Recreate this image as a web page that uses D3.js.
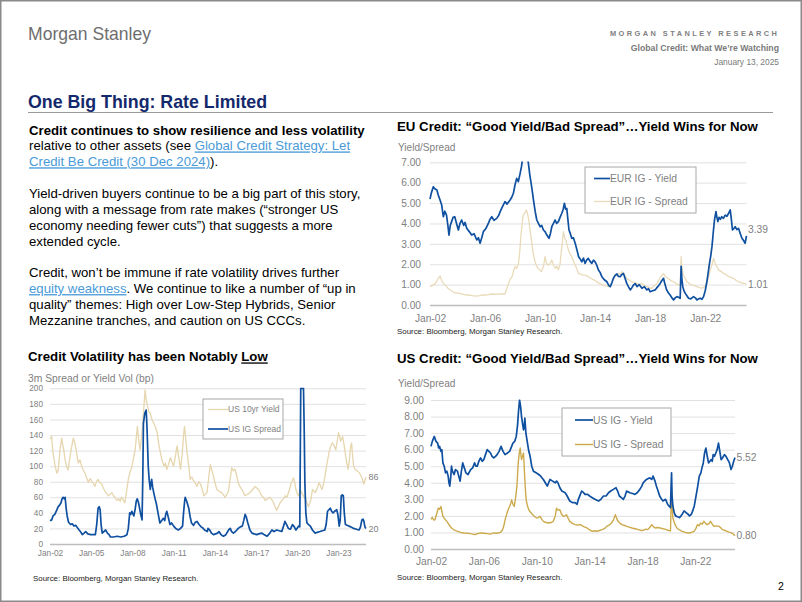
<!DOCTYPE html>
<html><head><meta charset="utf-8">
<script src="https://cdn.jsdelivr.net/npm/d3@7"></script>
<style>body{margin:0;background:#fff}svg{display:block}text{font-family:"Liberation Sans",Arial,sans-serif}</style>
</head><body><svg id="s" width="802" height="602"></svg>
<script>
// ---------- DATA ----------
const euYield = [[2002.0,5.2],[2002.1,5.5],[2002.24,5.8],[2002.35,5.7],[2002.5,5.64],[2002.6,5.4],[2002.73,5.15],[2002.85,4.9],[2002.97,4.33],[2003.08,4.6],[2003.2,4.41],[2003.3,3.9],[2003.38,3.43],[2003.47,3.9],[2003.57,4.09],[2003.68,4.3],[2003.8,4.33],[2003.93,4.0],[2004.06,3.68],[2004.18,4.0],[2004.3,4.17],[2004.45,3.9],[2004.55,4.05],[2004.67,3.76],[2004.85,3.6],[2005.03,3.43],[2005.2,3.5],[2005.4,3.19],[2005.52,3.3],[2005.64,3.03],[2005.76,3.3],[2005.88,3.6],[2006.06,3.75],[2006.24,4.0],[2006.36,4.2],[2006.49,4.33],[2006.65,4.15],[2006.85,4.25],[2007.0,4.4],[2007.1,4.58],[2007.25,4.8],[2007.45,5.07],[2007.6,4.95],[2007.82,5.15],[2007.95,5.3],[2008.06,5.48],[2008.18,5.9],[2008.3,6.21],[2008.42,6.05],[2008.55,6.46],[2008.65,6.8],[2008.71,7.1],[2008.8,7.4],[2008.9,7.3],[2009.0,7.1],[2009.08,7.3],[2009.15,6.95],[2009.25,6.4],[2009.35,5.97],[2009.45,5.5],[2009.52,5.15],[2009.64,4.6],[2009.76,4.17],[2009.88,4.0],[2010.0,3.84],[2010.12,3.9],[2010.24,3.68],[2010.36,3.6],[2010.49,3.43],[2010.65,3.27],[2010.75,3.5],[2010.85,3.84],[2010.97,4.0],[2011.09,4.17],[2011.2,4.0],[2011.33,4.09],[2011.45,4.3],[2011.58,4.5],[2011.68,4.7],[2011.77,4.99],[2011.85,4.7],[2011.94,4.74],[2012.02,4.2],[2012.1,3.68],[2012.2,3.5],[2012.3,3.27],[2012.42,3.3],[2012.55,3.03],[2012.68,2.7],[2012.8,2.37],[2012.92,2.25],[2013.03,2.12],[2013.15,2.3],[2013.27,2.04],[2013.38,2.2],[2013.5,2.29],[2013.62,2.15],[2013.76,2.04],[2013.88,2.2],[2014.0,2.12],[2014.12,1.95],[2014.24,1.72],[2014.36,1.6],[2014.49,1.39],[2014.65,1.25],[2014.85,1.14],[2015.0,0.95],[2015.1,0.9],[2015.22,1.1],[2015.33,1.31],[2015.45,1.45],[2015.58,1.52],[2015.7,1.4],[2015.82,1.39],[2015.94,1.5],[2016.06,1.55],[2016.18,1.3],[2016.3,1.06],[2016.42,0.9],[2016.55,0.74],[2016.67,0.85],[2016.79,0.98],[2016.92,1.05],[2017.04,0.9],[2017.2,1.0],[2017.4,0.82],[2017.58,0.9],[2017.76,0.74],[2017.88,0.8],[2018.0,0.65],[2018.18,0.7],[2018.36,0.74],[2018.55,0.9],[2018.73,1.06],[2018.85,1.2],[2018.97,1.31],[2019.08,1.0],[2019.2,0.74],[2019.32,0.6],[2019.45,0.49],[2019.58,0.35],[2019.7,0.25],[2019.82,0.35],[2019.94,0.41],[2020.06,0.38],[2020.18,0.33],[2020.22,1.2],[2020.25,1.9],[2020.3,1.3],[2020.37,0.9],[2020.45,0.7],[2020.55,0.57],[2020.67,0.45],[2020.79,0.33],[2020.95,0.3],[2021.15,0.41],[2021.28,0.35],[2021.4,0.25],[2021.52,0.3],[2021.64,0.33],[2021.76,0.28],[2021.88,0.41],[2022.0,0.7],[2022.12,1.14],[2022.22,1.6],[2022.31,2.04],[2022.4,2.4],[2022.49,2.86],[2022.55,3.3],[2022.6,3.68],[2022.68,4.2],[2022.78,4.58],[2022.85,4.3],[2022.92,4.09],[2023.0,4.3],[2023.1,4.2],[2023.2,4.33],[2023.32,4.25],[2023.45,4.41],[2023.58,4.35],[2023.7,4.5],[2023.82,4.66],[2023.9,4.2],[2023.98,3.68],[2024.08,3.75],[2024.18,3.84],[2024.3,3.7],[2024.42,3.76],[2024.55,3.5],[2024.67,3.27],[2024.8,3.15],[2024.9,3.03],[2025.0,3.39]];
const euSpread = [[2002.0,0.9],[2002.15,0.95],[2002.4,1.06],[2002.6,1.3],[2002.73,1.42],[2002.85,1.2],[2002.97,1.06],[2003.15,0.95],[2003.3,0.82],[2003.55,0.7],[2003.8,0.6],[2004.05,0.58],[2004.3,0.54],[2004.55,0.5],[2004.8,0.49],[2005.05,0.46],[2005.3,0.44],[2005.6,0.46],[2005.9,0.49],[2006.2,0.5],[2006.5,0.54],[2006.8,0.52],[2007.1,0.54],[2007.45,0.54],[2007.58,0.8],[2007.7,1.06],[2007.85,1.3],[2007.97,1.39],[2008.08,1.7],[2008.18,1.88],[2008.3,1.8],[2008.43,2.04],[2008.52,2.6],[2008.6,3.35],[2008.68,3.9],[2008.77,4.41],[2008.88,4.5],[2009.0,4.66],[2009.08,4.5],[2009.18,4.17],[2009.28,3.6],[2009.37,3.19],[2009.48,2.6],[2009.6,2.21],[2009.72,1.95],[2009.85,1.8],[2010.0,1.7],[2010.1,1.64],[2010.25,1.9],[2010.36,2.37],[2010.45,2.1],[2010.55,1.96],[2010.7,2.0],[2010.85,2.21],[2010.98,1.95],[2011.1,1.8],[2011.22,1.9],[2011.33,1.72],[2011.45,2.0],[2011.53,2.53],[2011.62,3.1],[2011.7,3.6],[2011.78,3.3],[2011.87,3.19],[2011.96,2.95],[2012.06,2.7],[2012.18,2.5],[2012.3,2.37],[2012.4,2.2],[2012.5,2.04],[2012.65,1.8],[2012.8,1.55],[2012.98,1.5],[2013.15,1.47],[2013.35,1.45],[2013.5,1.39],[2013.7,1.3],[2013.9,1.23],[2014.1,1.15],[2014.3,1.06],[2014.5,1.0],[2014.7,0.95],[2014.9,0.92],[2015.1,0.9],[2015.22,1.1],[2015.33,1.31],[2015.5,1.45],[2015.7,1.55],[2015.85,1.5],[2015.96,1.64],[2016.1,1.5],[2016.3,1.31],[2016.5,1.2],[2016.67,1.14],[2016.85,1.1],[2017.04,1.06],[2017.2,1.0],[2017.4,1.06],[2017.6,0.95],[2017.76,0.9],[2017.95,0.85],[2018.1,0.82],[2018.3,0.95],[2018.5,1.06],[2018.7,1.3],[2018.85,1.45],[2018.97,1.55],[2019.1,1.4],[2019.3,1.31],[2019.5,1.2],[2019.7,1.14],[2019.9,1.05],[2020.06,0.98],[2020.18,1.0],[2020.22,1.8],[2020.25,2.37],[2020.3,1.9],[2020.4,1.47],[2020.55,1.3],[2020.67,1.14],[2020.85,1.05],[2021.03,0.98],[2021.2,0.95],[2021.4,0.9],[2021.6,0.85],[2021.76,0.82],[2021.95,0.9],[2022.12,1.06],[2022.25,1.4],[2022.37,1.72],[2022.5,2.0],[2022.6,2.29],[2022.7,2.1],[2022.78,1.96],[2022.88,1.85],[2022.97,1.72],[2023.15,1.65],[2023.33,1.55],[2023.5,1.5],[2023.7,1.39],[2023.88,1.35],[2024.06,1.31],[2024.25,1.2],[2024.42,1.14],[2024.6,1.1],[2024.79,1.06],[2024.9,1.05],[2025.0,1.01]];
const volYield10y = [[2002.0,135],[2002.12,138],[2002.2,120],[2002.3,108],[2002.4,98],[2002.5,91],[2002.6,95],[2002.72,120],[2002.85,136],[2002.92,128],[2003.0,121],[2003.1,108],[2003.2,100],[2003.32,95],[2003.46,113],[2003.58,125],[2003.7,136],[2003.8,130],[2003.9,121],[2004.0,110],[2004.06,104],[2004.18,108],[2004.3,100],[2004.42,95],[2004.55,91],[2004.68,84],[2004.8,79],[2004.92,84],[2005.03,81],[2005.15,78],[2005.27,74],[2005.38,80],[2005.5,83],[2005.62,79],[2005.76,77],[2005.88,72],[2006.0,68],[2006.12,65],[2006.25,62],[2006.38,64],[2006.5,66],[2006.62,62],[2006.73,60],[2006.86,56],[2007.0,58],[2007.1,55],[2007.2,60],[2007.32,57],[2007.45,53],[2007.55,65],[2007.7,83],[2007.82,92],[2007.94,98],[2008.08,110],[2008.2,121],[2008.3,140],[2008.36,151],[2008.45,135],[2008.55,121],[2008.65,135],[2008.75,155],[2008.85,180],[2008.92,198],[2009.0,185],[2009.1,177],[2009.2,170],[2009.3,168],[2009.42,160],[2009.55,155],[2009.68,150],[2009.8,143],[2009.92,128],[2010.04,117],[2010.15,108],[2010.3,100],[2010.4,104],[2010.5,96],[2010.62,102],[2010.76,111],[2010.88,105],[2011.0,100],[2011.12,112],[2011.25,126],[2011.38,110],[2011.5,96],[2011.62,115],[2011.72,140],[2011.79,151],[2011.88,135],[2011.98,117],[2012.1,100],[2012.2,83],[2012.32,86],[2012.45,81],[2012.58,78],[2012.7,74],[2012.82,80],[2012.96,77],[2013.08,70],[2013.2,62],[2013.32,64],[2013.43,66],[2013.55,85],[2013.66,102],[2013.78,95],[2013.9,87],[2014.02,78],[2014.14,70],[2014.3,68],[2014.5,66],[2014.62,63],[2014.75,60],[2014.88,64],[2014.99,68],[2015.1,82],[2015.23,98],[2015.35,94],[2015.47,96],[2015.58,88],[2015.7,79],[2015.82,74],[2015.96,70],[2016.08,66],[2016.2,62],[2016.38,64],[2016.56,66],[2016.75,70],[2016.93,74],[2017.05,72],[2017.17,70],[2017.3,66],[2017.4,62],[2017.53,60],[2017.66,56],[2017.82,58],[2018.0,60],[2018.14,57],[2018.27,53],[2018.38,48],[2018.5,43],[2018.62,48],[2018.75,53],[2018.88,56],[2018.99,58],[2019.12,62],[2019.24,60],[2019.4,68],[2019.55,78],[2019.65,82],[2019.72,85],[2019.82,78],[2019.9,70],[2020.0,64],[2020.1,62],[2020.2,70],[2020.35,65],[2020.5,60],[2020.6,58],[2020.72,52],[2020.8,48],[2020.9,52],[2021.0,58],[2021.1,70],[2021.2,68],[2021.3,66],[2021.45,72],[2021.6,79],[2021.7,74],[2021.8,70],[2021.92,78],[2022.05,91],[2022.18,105],[2022.3,117],[2022.42,125],[2022.55,130],[2022.68,126],[2022.8,121],[2022.9,132],[2023.0,143],[2023.08,138],[2023.15,132],[2023.22,135],[2023.3,138],[2023.4,128],[2023.5,115],[2023.6,104],[2023.7,96],[2023.8,110],[2023.88,125],[2023.95,130],[2024.02,115],[2024.1,100],[2024.2,96],[2024.35,94],[2024.48,92],[2024.6,89],[2024.72,84],[2024.84,77],[2024.92,82],[2025.0,86]];
const volIGSpread = [[2002.0,30],[2002.12,31],[2002.22,36],[2002.35,38],[2002.45,42],[2002.6,48],[2002.7,50],[2002.8,53],[2002.88,58],[2002.95,60],[2003.05,58],[2003.1,60],[2003.18,45],[2003.25,36],[2003.35,28],[2003.5,25],[2003.62,26],[2003.74,23],[2003.87,24],[2004.0,21],[2004.12,18],[2004.25,15],[2004.35,12],[2004.48,14],[2004.6,16],[2004.75,13],[2004.96,12],[2005.1,12],[2005.3,12],[2005.4,25],[2005.5,46],[2005.58,48],[2005.65,44],[2005.72,25],[2005.8,14],[2005.92,16],[2006.05,18],[2006.18,14],[2006.3,12],[2006.4,9],[2006.6,9],[2006.9,10],[2007.15,9],[2007.4,10],[2007.6,12],[2007.7,20],[2007.8,40],[2007.88,38],[2007.96,42],[2008.05,38],[2008.1,36],[2008.2,45],[2008.28,55],[2008.35,58],[2008.43,54],[2008.5,48],[2008.6,38],[2008.7,31],[2008.75,80],[2008.8,155],[2008.9,168],[2009.0,172],[2009.06,150],[2009.15,100],[2009.22,82],[2009.3,70],[2009.35,78],[2009.4,83],[2009.48,72],[2009.55,66],[2009.65,58],[2009.75,51],[2009.88,38],[2010.0,27],[2010.12,30],[2010.25,33],[2010.35,30],[2010.42,38],[2010.5,42],[2010.6,35],[2010.73,25],[2010.85,27],[2011.0,23],[2011.15,20],[2011.34,18],[2011.5,20],[2011.65,23],[2011.72,40],[2011.8,55],[2011.84,60],[2011.95,55],[2012.1,46],[2012.2,35],[2012.3,27],[2012.45,24],[2012.58,28],[2012.7,29],[2012.85,25],[2013.0,22],[2013.1,21],[2013.25,18],[2013.45,16],[2013.5,20],[2013.62,18],[2013.75,14],[2013.9,12],[2014.05,13],[2014.2,14],[2014.3,16],[2014.45,12],[2014.62,10],[2014.8,12],[2015.0,18],[2015.12,20],[2015.22,16],[2015.35,14],[2015.5,16],[2015.6,18],[2015.7,20],[2015.85,22],[2016.0,23],[2016.1,30],[2016.2,38],[2016.28,35],[2016.4,27],[2016.55,18],[2016.7,14],[2016.85,13],[2017.05,12],[2017.2,13],[2017.4,14],[2017.6,12],[2017.8,10],[2018.0,14],[2018.15,18],[2018.3,16],[2018.5,18],[2018.68,17],[2018.87,16],[2018.98,22],[2019.1,29],[2019.22,25],[2019.35,20],[2019.5,19],[2019.65,25],[2019.78,22],[2019.9,18],[2020.1,23],[2020.18,22],[2020.22,120],[2020.25,200],[2020.35,200],[2020.45,200],[2020.5,150],[2020.55,79],[2020.62,40],[2020.7,27],[2020.82,25],[2020.95,23],[2021.1,18],[2021.3,14],[2021.45,15],[2021.65,16],[2021.82,17],[2022.0,18],[2022.1,25],[2022.2,42],[2022.3,44],[2022.4,46],[2022.5,42],[2022.6,40],[2022.72,42],[2022.87,44],[2022.95,38],[2023.05,23],[2023.12,30],[2023.2,62],[2023.28,63],[2023.35,62],[2023.42,40],[2023.5,25],[2023.62,24],[2023.75,23],[2023.9,22],[2024.1,20],[2024.3,19],[2024.5,18],[2024.6,22],[2024.7,31],[2024.78,32],[2024.85,29],[2024.92,22],[2025.0,20]];
const usYield = [[2002.0,6.2],[2002.1,6.5],[2002.25,6.8],[2002.38,6.5],[2002.5,6.4],[2002.58,6.1],[2002.65,6.2],[2002.75,5.9],[2002.82,6.0],[2002.9,5.2],[2003.0,5.0],[2003.1,4.6],[2003.2,4.7],[2003.3,4.4],[2003.36,4.0],[2003.42,3.8],[2003.5,4.4],[2003.55,5.0],[2003.62,4.7],[2003.75,4.5],[2003.85,4.8],[2004.0,4.7],[2004.1,4.4],[2004.2,4.1],[2004.3,4.7],[2004.4,5.2],[2004.52,4.9],[2004.64,4.6],[2004.8,4.5],[2005.0,4.8],[2005.15,4.9],[2005.3,5.2],[2005.4,5.0],[2005.5,5.0],[2005.62,5.3],[2005.75,5.5],[2005.88,5.3],[2006.0,5.4],[2006.12,5.7],[2006.25,6.0],[2006.38,5.9],[2006.5,5.8],[2006.62,5.6],[2006.75,5.5],[2006.88,5.6],[2007.0,5.7],[2007.15,5.9],[2007.3,6.2],[2007.45,5.9],[2007.6,5.7],[2007.78,5.8],[2007.95,5.9],[2008.1,6.2],[2008.2,6.4],[2008.33,6.5],[2008.45,6.8],[2008.55,7.5],[2008.62,8.3],[2008.7,9.0],[2008.78,8.6],[2008.85,8.0],[2008.92,7.6],[2009.0,7.2],[2009.06,7.5],[2009.1,7.9],[2009.18,7.0],[2009.3,6.4],[2009.4,5.9],[2009.5,5.6],[2009.62,5.0],[2009.75,4.7],[2009.95,4.6],[2010.15,4.5],[2010.3,4.4],[2010.5,4.2],[2010.65,4.0],[2010.8,3.8],[2010.9,4.0],[2011.0,4.2],[2011.2,4.1],[2011.4,4.0],[2011.5,4.1],[2011.6,4.0],[2011.75,3.7],[2011.9,3.5],[2012.15,3.4],[2012.3,3.2],[2012.5,2.9],[2012.7,2.8],[2012.9,2.8],[2013.05,2.7],[2013.15,3.0],[2013.3,3.3],[2013.4,3.5],[2013.55,3.4],[2013.65,3.3],[2013.85,3.3],[2014.0,3.2],[2014.2,3.1],[2014.4,3.0],[2014.55,2.95],[2014.68,2.9],[2014.85,3.0],[2015.05,3.2],[2015.25,3.2],[2015.43,3.4],[2015.6,3.5],[2015.8,3.6],[2016.0,3.7],[2016.12,3.5],[2016.25,3.2],[2016.4,3.1],[2016.55,3.0],[2016.68,3.2],[2016.8,3.5],[2016.92,3.45],[2017.05,3.4],[2017.25,3.35],[2017.43,3.3],[2017.6,3.4],[2017.8,3.6],[2017.95,3.8],[2018.05,4.0],[2018.3,4.2],[2018.55,4.3],[2018.7,4.2],[2018.8,4.4],[2018.95,4.1],[2019.05,3.8],[2019.18,3.5],[2019.3,3.2],[2019.45,3.0],[2019.55,2.9],[2019.75,3.0],[2019.9,2.7],[2020.0,2.6],[2020.12,2.5],[2020.16,3.7],[2020.2,4.6],[2020.24,3.2],[2020.3,2.6],[2020.4,2.2],[2020.5,2.0],[2020.65,1.95],[2020.8,1.9],[2020.92,2.0],[2021.0,2.1],[2021.15,2.3],[2021.3,2.2],[2021.45,2.1],[2021.55,2.0],[2021.7,2.1],[2021.8,2.3],[2021.92,2.6],[2022.05,3.2],[2022.18,3.8],[2022.3,4.4],[2022.42,4.6],[2022.5,4.9],[2022.6,5.2],[2022.7,5.8],[2022.8,6.1],[2022.9,5.6],[2023.0,5.2],[2023.1,5.3],[2023.2,5.4],[2023.28,5.3],[2023.35,5.7],[2023.45,5.6],[2023.55,5.8],[2023.65,6.0],[2023.75,6.4],[2023.85,5.9],[2023.95,5.4],[2024.05,5.5],[2024.2,5.7],[2024.32,5.6],[2024.45,5.4],[2024.58,5.2],[2024.7,4.8],[2024.8,5.0],[2024.9,5.3],[2025.0,5.52]];
const usSpread = [[2002.0,1.8],[2002.1,1.9],[2002.2,1.75],[2002.3,1.77],[2002.42,2.1],[2002.55,2.47],[2002.65,2.4],[2002.75,2.57],[2002.82,2.3],[2002.9,1.97],[2003.05,1.8],[2003.2,1.67],[2003.38,1.45],[2003.55,1.27],[2003.75,1.15],[2004.0,1.07],[2004.25,1.0],[2004.5,0.97],[2004.75,0.95],[2005.0,0.93],[2005.3,0.87],[2005.5,0.92],[2005.75,0.97],[2006.0,0.95],[2006.25,0.93],[2006.5,0.9],[2006.75,0.97],[2007.0,0.95],[2007.25,1.0],[2007.4,1.15],[2007.5,1.37],[2007.62,1.8],[2007.75,2.17],[2007.85,2.4],[2007.95,2.57],[2008.05,2.8],[2008.1,2.97],[2008.2,2.7],[2008.3,2.57],[2008.4,3.1],[2008.5,3.78],[2008.55,4.5],[2008.6,5.2],[2008.68,5.8],[2008.75,6.1],[2008.8,5.7],[2008.85,5.4],[2008.92,5.6],[2009.0,5.8],[2009.05,5.0],[2009.1,4.2],[2009.15,3.5],[2009.2,2.97],[2009.3,2.6],[2009.4,2.37],[2009.55,2.2],[2009.7,2.07],[2009.85,1.95],[2010.0,1.87],[2010.12,1.9],[2010.25,1.97],[2010.38,1.8],[2010.5,1.67],[2010.7,1.6],[2010.9,1.57],[2011.1,1.6],[2011.25,1.67],[2011.4,2.0],[2011.5,2.47],[2011.6,2.35],[2011.75,2.37],[2011.88,2.1],[2012.0,1.97],[2012.12,2.0],[2012.25,2.07],[2012.38,1.85],[2012.5,1.67],[2012.7,1.55],[2012.9,1.47],[2013.1,1.45],[2013.3,1.47],[2013.55,1.35],[2013.8,1.27],[2014.0,1.15],[2014.2,1.07],[2014.4,1.1],[2014.55,1.07],[2014.75,1.12],[2014.95,1.17],[2015.15,1.25],[2015.3,1.37],[2015.5,1.45],[2015.65,1.57],[2015.8,1.75],[2015.95,2.07],[2016.05,1.85],[2016.15,1.67],[2016.3,1.55],[2016.45,1.47],[2016.65,1.42],[2016.8,1.37],[2017.0,1.32],[2017.2,1.27],[2017.45,1.22],[2017.7,1.17],[2017.9,1.12],[2018.05,1.13],[2018.25,1.2],[2018.4,1.17],[2018.55,1.3],[2018.7,1.47],[2018.82,1.35],[2018.95,1.27],[2019.15,1.3],[2019.35,1.27],[2019.55,1.22],[2019.7,1.2],[2019.85,1.15],[2020.0,1.12],[2020.12,1.1],[2020.16,2.5],[2020.2,3.57],[2020.24,2.6],[2020.3,1.87],[2020.45,1.5],[2020.6,1.27],[2020.8,1.15],[2021.0,1.07],[2021.25,1.0],[2021.5,0.97],[2021.7,1.0],[2021.9,1.07],[2022.05,1.25],[2022.15,1.47],[2022.28,1.4],[2022.4,1.57],[2022.52,1.5],[2022.65,1.67],[2022.78,1.55],[2022.9,1.47],[2023.05,1.55],[2023.15,1.67],[2023.28,1.5],[2023.4,1.37],[2023.6,1.4],[2023.8,1.37],[2023.95,1.25],[2024.05,1.17],[2024.25,1.12],[2024.4,1.07],[2024.55,1.02],[2024.65,1.0],[2024.8,0.95],[2024.9,0.88],[2025.0,0.8]];

const euYTicks = [0,1,2,3,4,5,6,7];
const usYTicks = [0,1,2,3,4,5,6,7,8,9];
const volYTicks = [0,20,40,60,80,100,120,140,160,180,200];
const creditXTicks = [2002,2006,2010,2014,2018,2022];
const volXTicks = [2002,2005,2008,2011,2014,2017,2020,2023];
const euLegend = ["EUR IG - Yield","EUR IG - Spread"];
const volLegend = ["US 10yr Yield","US IG Spread"];
const usLegend = ["US IG - Yield","US IG - Spread"];

// ---------- STYLE ----------
const BLUE = "#0f50a0", BEIGE = "#e9dbb9", VOLBEIGE = "#e6d6ae", GOLD = "#ccaa4c";
const GRAY = "#7f7f7f";
const svg = d3.select("#s");
svg.append("rect").attr("x",0.75).attr("y",0.75).attr("width",800.5).attr("height",600.5).attr("fill","#fff").attr("stroke","#8a8a8a").attr("stroke-width",1.5);

// header
svg.append("text").attr("x",28).attr("y",40).attr("font-size",19).attr("fill","#6e6e6e").attr("textLength",123).attr("lengthAdjust","spacingAndGlyphs").text("Morgan Stanley");
svg.append("text").attr("x",610).attr("y",35.5).attr("font-size",7.4).attr("font-weight","bold").attr("fill","#808080").attr("letter-spacing","2.45").text("MORGAN STANLEY RESEARCH");
svg.append("text").attr("x",779).attr("y",50.5).attr("text-anchor","end").attr("font-size",8.7).attr("font-weight","bold").attr("fill","#7a7a7a").text("Global Credit: What We’re Watching");
svg.append("text").attr("x",779).attr("y",64.5).attr("text-anchor","end").attr("font-size",8.4).attr("fill","#7a7a7a").text("January 13, 2025");
svg.append("text").attr("x",28).attr("y",107.5).attr("font-size",17.8).attr("font-weight","bold").attr("fill","#14296b").text("One Big Thing: Rate Limited");
svg.append("line").attr("x1",28).attr("x2",773).attr("y1",112.5).attr("y2",112.5).attr("stroke","#9a9a9a").attr("stroke-width",1);

// body text
const bodyLines = [
 [0,[["Credit continues to show resilience and less volatility","b"]]],
 [1,[["relative to other assets (see ",""],["Global Credit Strategy: Let","l"]]],
 [2,[["Credit Be Credit (30 Dec 2024)","l"],[").",""]]],
 [4,[["Yield-driven buyers continue to be a big part of this story,",""]]],
 [5,[["along with a message from rate makes (“stronger US",""]]],
 [6,[["economy needing fewer cuts”) that suggests a more",""]]],
 [7,[["extended cycle.",""]]],
 [9,[["Credit, won’t be immune if rate volatility drives further",""]]],
 [10,[["equity weakness","l"],[". We continue to like a number of “up in",""]]],
 [11,[["quality” themes: High over Low-Step Hybrids, Senior",""]]],
 [12,[["Mezzanine tranches, and caution on US CCCs.",""]]]
];
bodyLines.forEach(([i,segs])=>{
  const t = svg.append("text").attr("x",29).attr("y",134.6+i*15.85).attr("font-size",13.2).attr("fill","#000");
  segs.forEach(([s,k])=>{
    const ts = t.append("tspan").text(s);
    if(k==="b") ts.attr("font-weight","bold");
    if(k==="l") ts.attr("fill","#4a9ad8").attr("text-decoration","underline");
  });
});

// ---------- CHART FUNCTION ----------
function chart(c){
  const g = svg.append("g");
  const x = d3.scaleLinear().domain([2002,2025]).range([c.x0,c.x1]);
  const y = d3.scaleLinear().domain([c.yTicks[0],c.yTicks[c.yTicks.length-1]]).range([c.yB,c.yT]);
  // title
  const tt = g.append("text").attr("x",c.tx).attr("y",c.ty).attr("font-size",13.25).attr("font-weight","bold").attr("fill","#000");
  c.title.forEach(([s,u])=>{const ts=tt.append("tspan").text(s); if(u) ts.attr("text-decoration","underline");});
  g.append("text").attr("x",c.ax).attr("y",c.ay).attr("font-size",c.afs).attr("fill",GRAY).text(c.axisLabel);
  // y axis + grid
  const ya = g.append("g").attr("transform",`translate(${c.x0},0)`)
    .call(d3.axisLeft(y).tickValues(c.yTicks).tickFormat(c.fmt).tickSize(-(c.x1-c.x0)).tickPadding(c.ypad));
  ya.select(".domain").remove();
  ya.selectAll(".tick line").attr("stroke",d=>d===0?"#bdbdbd":"#dedede").attr("stroke-width",d=>d===0?1.6:0.9);
  ya.selectAll(".tick text").attr("fill",GRAY).attr("font-size",c.tfs).attr("font-family","Liberation Sans, Arial, sans-serif");
  // x axis
  const xa = g.append("g").attr("transform",`translate(0,${c.yB})`)
    .call(d3.axisBottom(x).tickValues(c.xTicks).tickFormat(d=>"Jan-"+String(d%100).padStart(2,"0")).tickSize(0).tickPadding(c.xpad));
  xa.select(".domain").remove();
  xa.selectAll(".tick text").attr("fill",GRAY).attr("font-size",c.tfs).attr("font-family","Liberation Sans, Arial, sans-serif");
  // clip
  const cid = "clip"+c.id;
  g.append("clipPath").attr("id",cid).append("rect").attr("x",c.x0-2).attr("y",c.yT-0.8).attr("width",c.x1-c.x0+4).attr("height",c.yB-c.yT+3);
  const line = d3.line().x(d=>x(d[0])).y(d=>y(d[1]));
  const lg = g.append("g").attr("clip-path",`url(#${cid})`);
  c.series.forEach(s=>{
    lg.append("path").datum(s.data).attr("d",line).attr("fill","none").attr("stroke",s.color).attr("stroke-width",s.w).attr("stroke-linejoin","round");
  });
  // end labels
  c.series.forEach(s=>{
    const last = s.data[s.data.length-1];
    g.append("text").attr("x",x(last[0])+c.lpad).attr("y",y(last[1])+s.loff).attr("dy","0.35em")
      .attr("font-size",c.lfs).attr("fill",GRAY).text(c.lfmt(last[1]));
  });
  // legend
  const L = c.legend;
  g.append("rect").attr("x",L.x).attr("y",L.y).attr("width",L.w).attr("height",L.h).attr("fill","#fff").attr("stroke","#a8a8a8").attr("stroke-width",1);
  c.series.slice().reverse().forEach((s,i)=>{});
  c.legendOrder.forEach((si,i)=>{
    const s = c.series[si];
    const ry = L.rows[i];
    g.append("line").attr("x1",L.lx0).attr("x2",L.lx1).attr("y1",ry).attr("y2",ry).attr("stroke",s.color).attr("stroke-width",s.w);
    g.append("text").attr("x",L.tx).attr("y",ry).attr("dy","0.35em").attr("font-size",L.fs).attr("fill",GRAY).text(s.name);
  });
  g.append("text").attr("x",c.sx).attr("y",c.sy).attr("font-size",7.9).attr("fill","#222").text("Source: Bloomberg, Morgan Stanley Research.");
}

const f2 = d3.format(".2f");
chart({id:"eu", x0:430, x1:746.5, yT:162.3, yB:305, yTicks:euYTicks, fmt:f2, xTicks:creditXTicks,
  title:[["EU Credit: “Good Yield/Bad Spread”…Yield Wins for Now",false]], tx:397, ty:130.8,
  axisLabel:"Yield/Spread", ax:398, ay:150.6, afs:10.1, ypad:9, xpad:10, tfs:10.2,
  series:[{name:euLegend[1],data:euSpread,color:BEIGE,w:1.3,loff:0},{name:euLegend[0],data:euYield,color:BLUE,w:1.7,loff:-6}],
  legendOrder:[1,0], lpad:1.5, lfs:10.3, lfmt:f2,
  legend:{x:585,y:167,w:111,h:46,rows:[178.5,201.5],lx0:594,lx1:610,tx:610,fs:10.3},
  sx:397, sy:333.8});
chart({id:"vol", x0:50, x1:366, yT:388.3, yB:544, yTicks:volYTicks, fmt:d3.format("d"), xTicks:volXTicks,
  title:[["Credit Volatility has been Notably ",false],["Low",true]], tx:28, ty:361.4,
  axisLabel:"3m Spread or Yield Vol (bp)", ax:28, ay:381.7, afs:10.3, ypad:7, xpad:6.5, tfs:8.3,
  series:[{name:volLegend[0],data:volYield10y,color:VOLBEIGE,w:1.3,loff:0},{name:volLegend[1],data:volIGSpread,color:BLUE,w:1.7,loff:0}],
  legendOrder:[0,1], lpad:2.5, lfs:9, lfmt:d3.format("d"),
  legend:{x:203,y:399,w:80,h:40,rows:[409.5,429],lx0:208,lx1:228,tx:228,fs:8.5},
  sx:33, sy:580.8});
chart({id:"us", x0:431, x1:735, yT:400, yB:549, yTicks:usYTicks, fmt:f2, xTicks:creditXTicks,
  title:[["US Credit: “Good Yield/Bad Spread”…Yield Wins for Now",false]], tx:397, ty:363,
  axisLabel:"Yield/Spread", ax:398, ay:386.6, afs:10.1, ypad:7, xpad:8.5, tfs:10.2,
  series:[{name:usLegend[1],data:usSpread,color:GOLD,w:1.4,loff:0},{name:usLegend[0],data:usYield,color:BLUE,w:1.7,loff:0}],
  legendOrder:[1,0], lpad:1.5, lfs:10.3, lfmt:f2,
  legend:{x:562,y:408,w:109,h:48,rows:[420,444.5],lx0:575,lx1:593,tx:593,fs:10.3},
  sx:397, sy:579.8});

svg.append("text").attr("x",778).attr("y",590).attr("font-size",10.5).attr("fill","#000").text("2");
</script></body></html>
